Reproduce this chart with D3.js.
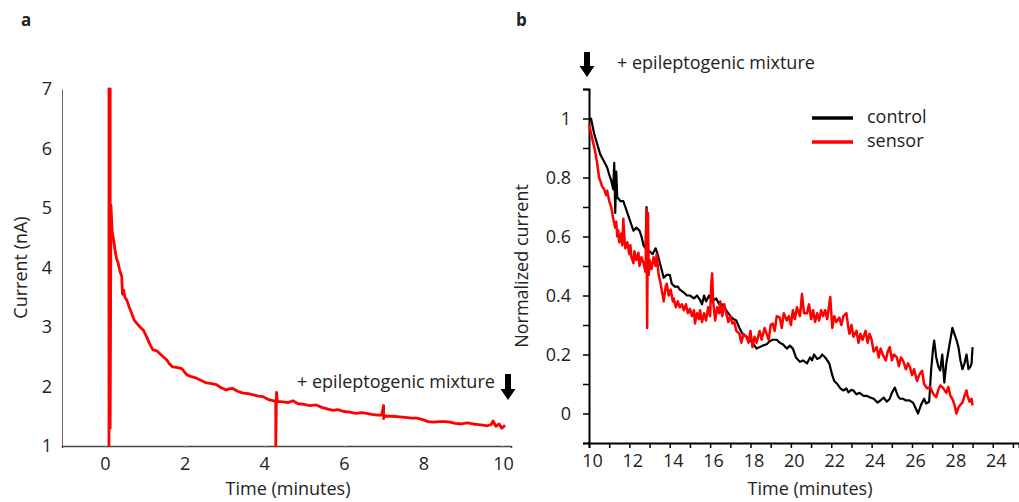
<!DOCTYPE html>
<html>
<head>
<meta charset="utf-8">
<script src="https://cdn.jsdelivr.net/npm/d3@7"></script>
<style>
  body { margin: 0; background: #fff; }
  text { font-family: "Open Sans", sans-serif; fill: #222; }
</style>
</head>
<body>
<div id="chart"></div>
<script>
// panel a: current trace (minutes, nA)
const timeA = [0.10, 0.10, 0.13, 0.13, 0.15, 0.18, 0.22, 0.25, 0.29, 0.33, 0.37, 0.42, 0.44, 0.47, 0.5,
  0.55, 0.6, 0.67, 0.73, 0.8, 0.88, 0.96, 1.05, 1.12, 1.2, 1.3, 1.38, 1.46, 1.55, 1.62, 1.7, 1.8, 1.93,
  2.05, 2.15, 2.3, 2.42, 2.55, 2.68, 2.8, 2.92, 3.05, 3.12, 3.2, 3.33, 3.47, 3.6, 3.72, 3.85, 3.97, 4.05,
  4.15, 4.25, 4.29, 4.29, 4.31, 4.33, 4.47, 4.6, 4.72, 4.85, 5.0, 5.15, 5.3, 5.45, 5.6, 5.73, 5.85, 6.0,
  6.15, 6.3, 6.45, 6.57, 6.7, 6.85, 6.95, 7.0, 7.0, 7.02, 7.1, 7.25, 7.4, 7.55, 7.7, 7.84, 8.0, 8.12,
  8.25, 8.4, 8.55, 8.67, 8.8, 8.95, 9.1, 9.25, 9.38, 9.5, 9.6, 9.7, 9.75, 9.82, 9.9, 9.97, 10.05];
const currentA = [1.0, 7.0, 7.0, 1.3, 5.05, 4.6, 4.45, 4.3, 4.15, 4.08, 3.95, 3.85, 3.55, 3.62, 3.5,
  3.45, 3.35, 3.23, 3.12, 3.06, 3.0, 2.95, 2.83, 2.72, 2.62, 2.6, 2.55, 2.5, 2.45, 2.38, 2.33, 2.32, 2.3,
  2.2, 2.17, 2.14, 2.1, 2.06, 2.05, 2.03, 1.98, 1.94, 1.96, 1.97, 1.92, 1.89, 1.88, 1.86, 1.84, 1.83, 1.8,
  1.77, 1.76, 1.76, 1.0, 1.9, 1.75, 1.74, 1.73, 1.76, 1.71, 1.7, 1.68, 1.69, 1.65, 1.62, 1.6, 1.61, 1.58,
  1.57, 1.55, 1.56, 1.55, 1.53, 1.52, 1.52, 1.68, 1.46, 1.51, 1.5, 1.5, 1.49, 1.48, 1.47, 1.47, 1.44, 1.41,
  1.4, 1.41, 1.41, 1.4, 1.38, 1.37, 1.39, 1.37, 1.36, 1.35, 1.34, 1.36, 1.42, 1.33, 1.37, 1.3, 1.35];
const ticksXA = [0, 2, 4, 6, 8, 10];
const ticksYA = [1, 2, 3, 4, 5, 6, 7];

// panel b: normalized current after the mixture
const timeControl = [10.0, 10.1, 10.25, 10.4, 10.55, 10.7, 10.9, 11.0, 11.1, 11.2, 11.25, 11.3, 11.35, 11.4,
  11.45, 11.55, 11.7, 11.8, 11.9, 12.05, 12.2, 12.35, 12.5, 12.6, 12.7, 12.8, 12.85, 12.9, 13.0, 13.15,
  13.3, 13.4, 13.55, 13.7, 13.85, 14.0, 14.1, 14.25, 14.4, 14.5, 14.7, 14.85, 15.0, 15.2, 15.35, 15.5,
  15.6, 15.7, 15.8, 15.95, 16.1, 16.3, 16.45, 16.6, 16.8, 17.0, 17.15, 17.3, 17.45, 17.6, 17.8, 17.95,
  18.1, 18.3, 18.45, 18.6, 18.8, 18.95, 19.1, 19.3, 19.45, 19.6, 19.8, 19.95, 20.1, 20.25, 20.45, 20.6,
  20.8, 20.95, 21.05, 21.15, 21.3, 21.45, 21.55, 21.7, 21.8, 21.9, 22.05, 22.15, 22.3, 22.45, 22.6, 22.75,
  22.85, 23.0, 23.1, 23.25, 23.4, 23.6, 23.75, 23.9, 24.1, 24.3, 24.45, 24.6, 24.75, 24.9, 25.0, 25.15,
  25.3, 25.4, 25.55, 25.7, 25.85, 26.05, 26.2, 26.3, 26.45, 26.6, 26.7, 26.85, 26.95, 27.05, 27.1, 27.2,
  27.3, 27.4, 27.5, 27.6, 27.7, 27.8, 27.9, 28.0, 28.1, 28.2, 28.3, 28.4, 28.5, 28.6, 28.7, 28.8, 28.9,
  28.95, 29.0];
const valueControl = [1.0, 1.0, 0.95, 0.915, 0.88, 0.86, 0.834, 0.81, 0.79, 0.76, 0.85, 0.68, 0.82, 0.73,
  0.73, 0.72, 0.72, 0.70, 0.68, 0.65, 0.62, 0.63, 0.62, 0.60, 0.57, 0.56, 0.70, 0.55, 0.55, 0.54,
  0.56, 0.54, 0.50, 0.46, 0.47, 0.47, 0.44, 0.43, 0.43, 0.42, 0.41, 0.40, 0.40, 0.39, 0.40, 0.385,
  0.37, 0.40, 0.38, 0.40, 0.38, 0.39, 0.37, 0.37, 0.35, 0.33, 0.32, 0.315, 0.29, 0.27, 0.26, 0.25,
  0.24, 0.22, 0.225, 0.23, 0.235, 0.245, 0.25, 0.25, 0.24, 0.235, 0.22, 0.23, 0.22, 0.19, 0.175, 0.18,
  0.17, 0.19, 0.18, 0.20, 0.185, 0.19, 0.20, 0.19, 0.18, 0.17, 0.13, 0.11, 0.10, 0.085, 0.078, 0.085,
  0.072, 0.08, 0.078, 0.065, 0.07, 0.06, 0.06, 0.055, 0.05, 0.037, 0.045, 0.054, 0.04, 0.05, 0.07, 0.088,
  0.06, 0.05, 0.05, 0.044, 0.045, 0.037, 0.015, 0.0, 0.03, 0.05, 0.034, 0.04, 0.15, 0.225, 0.247, 0.19,
  0.16, 0.146, 0.2, 0.105, 0.17, 0.21, 0.25, 0.29, 0.27, 0.25, 0.225, 0.18, 0.15, 0.17, 0.2, 0.15, 0.16,
  0.17, 0.225];

const timeSensor = [10.0, 10.1, 10.2, 10.3, 10.4, 10.5, 10.55, 10.65, 10.75, 10.85, 10.9, 11.0, 11.1, 11.15,
  11.2, 11.3, 11.35, 11.4, 11.45, 11.5, 11.6, 11.65, 11.7, 11.75, 11.8, 11.9, 12.0, 12.05, 12.1, 12.2,
  12.25, 12.35, 12.45, 12.5, 12.6, 12.7, 12.8, 12.85, 12.88, 12.92, 12.96, 13.0, 13.1, 13.2, 13.3, 13.35,
  13.45, 13.55, 13.65, 13.7, 13.8, 13.85, 13.95, 14.05, 14.15, 14.2, 14.3, 14.4, 14.5, 14.6, 14.7, 14.8,
  14.9, 15.0, 15.1, 15.2, 15.25, 15.35, 15.45, 15.5, 15.6, 15.7, 15.8, 15.9, 16.0, 16.05, 16.1, 16.15,
  16.25, 16.35, 16.45, 16.5, 16.6, 16.7, 16.8, 16.9, 17.0, 17.1, 17.2, 17.3, 17.45, 17.55, 17.65, 17.8,
  17.9, 18.0, 18.1, 18.2, 18.3, 18.45, 18.55, 18.7, 18.8, 18.9, 19.0, 19.1, 19.2, 19.3, 19.45, 19.55,
  19.65, 19.8, 19.9, 20.0, 20.1, 20.2, 20.3, 20.45, 20.55, 20.65, 20.8, 20.9, 21.0, 21.1, 21.2, 21.3,
  21.4, 21.5, 21.6, 21.7, 21.8, 21.95, 22.05, 22.15, 22.25, 22.4, 22.5, 22.6, 22.75, 22.85, 22.9, 23.0,
  23.1, 23.25, 23.35, 23.45, 23.55, 23.7, 23.8, 23.9, 24.0, 24.1, 24.25, 24.35, 24.45, 24.55, 24.7, 24.8,
  24.9, 25.0, 25.1, 25.25, 25.35, 25.45, 25.55, 25.7, 25.8, 25.9, 26.0, 26.1, 26.25, 26.35, 26.5, 26.6,
  26.75, 26.9, 27.05, 27.2, 27.3, 27.4, 27.5, 27.6, 27.7, 27.8, 27.9, 28.0, 28.1, 28.2, 28.3, 28.4, 28.5,
  28.6, 28.7, 28.75, 28.85, 28.95, 29.0];
const valueSensor = [0.98, 0.95, 0.92, 0.89, 0.85, 0.80, 0.79, 0.77, 0.76, 0.74, 0.755, 0.72, 0.70, 0.68,
  0.66, 0.63, 0.65, 0.60, 0.62, 0.58, 0.61, 0.57, 0.66, 0.60, 0.56, 0.58, 0.54, 0.57, 0.53, 0.51,
  0.55, 0.52, 0.545, 0.50, 0.53, 0.51, 0.48, 0.69, 0.29, 0.68, 0.47, 0.52, 0.49, 0.53, 0.50, 0.54,
  0.47, 0.44, 0.40, 0.38, 0.43, 0.44, 0.40, 0.42, 0.38, 0.39, 0.36, 0.38, 0.36, 0.37, 0.35, 0.37,
  0.34, 0.355, 0.33, 0.35, 0.305, 0.34, 0.32, 0.35, 0.31, 0.34, 0.315, 0.36, 0.33, 0.43, 0.475, 0.38,
  0.315, 0.36, 0.34, 0.38, 0.33, 0.37, 0.34, 0.31, 0.33, 0.305, 0.31, 0.28, 0.27, 0.24, 0.27, 0.26,
  0.24, 0.28, 0.225, 0.26, 0.24, 0.28, 0.25, 0.29, 0.27, 0.25, 0.30, 0.305, 0.28, 0.33, 0.325, 0.29,
  0.34, 0.315, 0.33, 0.30, 0.35, 0.32, 0.36, 0.33, 0.405, 0.34, 0.34, 0.37, 0.32, 0.35, 0.31, 0.34,
  0.315, 0.35, 0.33, 0.35, 0.32, 0.395, 0.29, 0.33, 0.31, 0.325, 0.30, 0.33, 0.34, 0.29, 0.27, 0.30,
  0.26, 0.28, 0.24, 0.27, 0.25, 0.28, 0.24, 0.27, 0.25, 0.21, 0.225, 0.19, 0.22, 0.20, 0.18, 0.21,
  0.225, 0.18, 0.20, 0.19, 0.16, 0.19, 0.18, 0.15, 0.17, 0.157, 0.13, 0.15, 0.11, 0.13, 0.145, 0.10,
  0.085, 0.09, 0.067, 0.055, 0.08, 0.095, 0.09, 0.08, 0.07, 0.09, 0.06, 0.05, 0.03, 0.0, 0.02, 0.03, 0.037,
  0.06, 0.078, 0.06, 0.04, 0.05, 0.027];

const ticksXB = [10, 12, 14, 16, 18, 20, 22, 24, 26, 28, 30];
const tickLabelsXB = ["10", "12", "14", "16", "18", "20", "22", "24", "26", "28", "24"]; // as printed
const ticksYB = [0, 0.2, 0.4, 0.6, 0.8, 1];
const seriesNames = ["control", "sensor"];
const seriesColors = ["#000000", "#ff0000"];

const W = 1019, H = 502;
const FS = "18px";
const svg = d3.select("#chart").append("svg")
  .attr("width", W).attr("height", H)
  .style("background", "#fff");

// draws a filled down arrow, tip at (cx, y1)
function downArrow(cx, y0, y1) {
  const head = 11;
  const p = d3.path();
  p.moveTo(cx - 3, y0); p.lineTo(cx + 3, y0); p.lineTo(cx + 3, y1 - head);
  p.lineTo(cx + 7.5, y1 - head); p.lineTo(cx, y1); p.lineTo(cx - 7.5, y1 - head);
  p.lineTo(cx - 3, y1 - head); p.closePath();
  svg.append("path").attr("d", p.toString()).attr("fill", "#000");
}

// ---------- panel a ----------
const xA = d3.scaleLinear().domain([-1.08, 10.2]).range([62, 511]);
const yA = d3.scaleLinear().domain([1, 7]).range([446, 89]);

svg.append("text").attr("x", 21).attr("y", 26)
  .style("font-weight", "bold").style("font-size", "17px").text("a");

const axA_y = svg.append("g").attr("transform", `translate(${xA.range()[0]},0)`)
  .call(d3.axisLeft(yA).tickValues(ticksYA).tickSize(0).tickPadding(10).tickFormat(d3.format("d")));
axA_y.select(".domain").attr("stroke", "#666").attr("stroke-width", 1);

const axA_x = svg.append("g").attr("transform", `translate(0,${yA(1)})`)
  .call(d3.axisBottom(xA).tickValues(ticksXA).tickSize(2).tickPadding(9).tickFormat(d3.format("d")));
axA_x.select(".domain").attr("stroke", "#444").attr("stroke-width", 1.5);
axA_x.selectAll(".tick line").attr("stroke", "#9aa");

svg.selectAll(".tick text").style("font-size", FS).attr("fill", "#222");

svg.append("text")
  .attr("transform", `translate(22,${(yA(1) + yA(7)) / 2}) rotate(-90)`)
  .attr("text-anchor", "middle").attr("dominant-baseline", "middle")
  .style("font-size", FS).text("Current (nA)");
svg.append("text").attr("x", 288).attr("y", 490)
  .attr("text-anchor", "middle").attr("dominant-baseline", "middle")
  .style("font-size", FS).text("Time (minutes)");

const lineA = d3.line().x((d) => xA(d[0])).y((d) => yA(d[1]));
svg.append("path")
  .datum(d3.zip(timeA, currentA))
  .attr("d", lineA)
  .attr("fill", "none").attr("stroke", "#ff0000")
  .attr("stroke-width", 2.8).attr("stroke-linejoin", "round");

svg.append("text").attr("x", 297).attr("y", 383)
  .attr("dominant-baseline", "middle").style("font-size", FS)
  .text("+ epileptogenic mixture");
downArrow(508, 374, 400);

// ---------- panel b ----------
const xB = d3.scaleLinear().domain([10, 31.3]).range([589, 1019]);
const yB = d3.scaleLinear().domain([-0.1, 1.1]).range([443, 89]);

svg.append("text").attr("x", 516).attr("y", 26)
  .style("font-weight", "bold").style("font-size", "17px").text("b");

// minor ticks every 0.1 / every minute
const axB_y = svg.append("g").attr("transform", `translate(${xB(10)},0)`)
  .call(d3.axisLeft(yB).tickValues(d3.range(-1, 12).map((i) => i / 10)).tickSize(6).tickFormat(""));
axB_y.select(".domain").attr("stroke", "#000").attr("stroke-width", 2);
axB_y.selectAll(".tick line").attr("stroke", "#000").attr("stroke-width", 1.5);
svg.append("g").attr("transform", `translate(${xB(10) - 15},0)`)
  .call(d3.axisLeft(yB).tickValues(ticksYB).tickSize(0).tickFormat(d3.format("~g")))
  .call((g) => g.select(".domain").remove());

const axB_x = svg.append("g").attr("transform", `translate(0,${yB(-0.1)})`)
  .call(d3.axisBottom(xB).tickValues(d3.range(10, 32)).tickSize(5).tickFormat(""));
axB_x.select(".domain").attr("stroke", "#000").attr("stroke-width", 2);
axB_x.selectAll(".tick line").attr("stroke", "#000").attr("stroke-width", 1.5);
svg.append("g").attr("transform", `translate(3,${yB(-0.1) + 8})`)
  .call(d3.axisBottom(xB).tickValues(ticksXB).tickSize(0)
    .tickFormat((d, i) => tickLabelsXB[i]))
  .call((g) => g.select(".domain").remove());

svg.selectAll(".tick text").style("font-size", FS).attr("fill", "#222");

svg.append("text")
  .attr("transform", `translate(523,${(yB(-0.1) + yB(1.1)) / 2}) rotate(-90)`)
  .attr("text-anchor", "middle").attr("dominant-baseline", "middle")
  .style("font-size", FS).text("Normalized current");
svg.append("text").attr("x", 810).attr("y", 490)
  .attr("text-anchor", "middle").attr("dominant-baseline", "middle")
  .style("font-size", FS).text("Time (minutes)");

const lineB = d3.line().x((d) => xB(d[0])).y((d) => yB(d[1]));
svg.append("path")
  .datum(d3.zip(timeControl, valueControl))
  .attr("d", lineB)
  .attr("fill", "none").attr("stroke", seriesColors[0])
  .attr("stroke-width", 2.2).attr("stroke-linejoin", "round");
svg.append("path")
  .datum(d3.zip(timeSensor, valueSensor))
  .attr("d", lineB)
  .attr("fill", "none").attr("stroke", seriesColors[1])
  .attr("stroke-width", 2.5).attr("stroke-linejoin", "round");

// legend
const legend = svg.append("g").attr("transform", "translate(812,118)");
seriesNames.forEach((name, i) => {
  legend.append("line").attr("x1", 0).attr("x2", 41)
    .attr("y1", i * 24).attr("y2", i * 24)
    .attr("stroke", seriesColors[i]).attr("stroke-width", 3.5);
  legend.append("text").attr("x", 55).attr("y", i * 24)
    .attr("dominant-baseline", "middle").style("font-size", FS).text(name);
});

downArrow(587, 52, 77);
svg.append("text").attr("x", 617).attr("y", 64)
  .attr("dominant-baseline", "middle").style("font-size", FS)
  .text("+ epileptogenic mixture");
</script>
</body>
</html>
